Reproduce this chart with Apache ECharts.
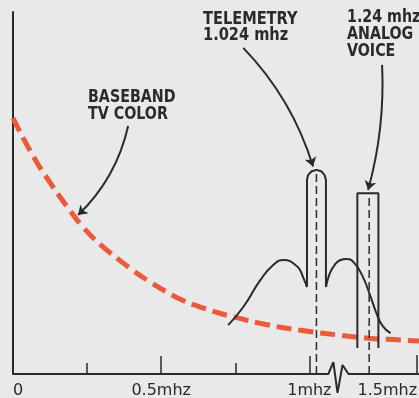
<!DOCTYPE html>
<html>
<head>
<meta charset="utf-8">
<script src="https://cdn.jsdelivr.net/npm/echarts@6.0.0/dist/echarts.min.js"></script>
<style>
html,body{margin:0;padding:0;background:#e8e9e8;}
#chart{width:419px;height:398px;}
</style>
</head>
<body>
<div id="chart"></div>
<script>
// ---- axis ticks / labels ----
const leftTickValues = [0, 0.5, 1];
const leftTickLabels = ['0', '0.5mhz', '1mhz'];
const leftMajorTicks = [0.5, 1];
const leftMinorTicks = [0.25, 0.75];
const rightTickValues = [1.5];
const rightTickLabels = ['1.5mhz'];

// ---- baseband TV colour spectrum (mhz, relative level) ----
const basebandX = [0, 0.068, 0.125, 0.182, 0.236, 0.294, 0.351, 0.405, 0.463, 0.520, 0.574, 0.632, 0.689, 0.743, 0.858, 0.970, 1.105, 1.199, 1.307, 1.37];
const basebandY = [70.7, 60.2, 52.9, 46.3, 40.6, 35.8, 32.0, 28.6, 25.4, 22.6, 20.3, 18.5, 17.0, 15.8, 13.6, 12.1, 10.7, 9.9, 9.4, 9.1];

// ---- telemetry 1.024 mhz ----
const teleFreq = 1.024;
const teleTop = 56.4;
const teleLeftLobeX = [0.726, 0.777, 0.835, 0.878, 0.912, 0.960, 0.980, 0.992];
const teleLeftLobeY = [13.5, 18.5, 26.0, 30.1, 31.5, 29.6, 26.5, 24.0];
const telePeakX = [0.992, 0.992, 0.996, 1.008, 1.024, 1.040, 1.051, 1.056, 1.056];
const telePeakY = [24.0, 53.7, 55.0, 56.0, 56.4, 56.0, 55.0, 53.7, 24.0];
const teleRightLobeX = [1.056, 1.068, 1.085, 1.105, 1.125, 1.149, 1.179, 1.206, 1.226, 1.247, 1.274];
const teleRightLobeY = [24.0, 27.6, 30.1, 31.5, 31.8, 30.9, 27.1, 21.5, 16.9, 13.3, 11.3];

// ---- analog voice 1.24 mhz ----
const voiceFreq = 1.24;
const voiceTop = 49.9;
const voiceX = [1.176, 1.176, 1.290, 1.290];
const voiceY = [7.2, 49.9, 49.9, 7.2];

// ---- axis break (baseline with zigzag) ----
const axisBreakX = [0, 1.064, 1.081, 1.095, 1.112, 1.132, 1.37];
const axisBreakY = [0, 0, 3.3, -5.2, 2.5, 0, 0];

// ---- annotation arrows [from, to] ----
const arrowBaseband = [[0.3885, 68.5], [0.2196, 43.9]];
const arrowTelemetry = [[0.777, 90.1], [1.0125, 57.3]];
const arrowVoice = [[1.31, 85.4], [1.234, 50.8]];

const zip = (xs, ys) => xs.map((x, i) => [x, ys[i]]);
const INK = '#2a2a2a';
const RED = '#ec5a3b';
const annoFont = 'bold 18px "DejaVu Sans Condensed", "DejaVu Sans", sans-serif';

const chart = echarts.init(document.getElementById('chart'), null, {renderer: 'canvas'});

function labelFor(values, labels) {
  return function (v) {
    const i = values.findIndex(t => Math.abs(t - v) < 1e-9);
    return i >= 0 ? labels[i] : '';
  };
}

const baseLine = {type: 'line', showSymbol: false, symbol: 'none', silent: true, animation: false};

chart.setOption({
  backgroundColor: '#e8e9e8',
  animation: false,
  grid: {left: 13, right: 0, top: 12, bottom: 24, containLabel: false, outerBoundsMode: 'none'},
  xAxis: [
    {
      type: 'value', position: 'bottom', min: 0, max: 1.37,
      axisLine: {show: false}, splitLine: {show: false},
      axisTick: {show: true, inside: true, length: 18, customValues: leftMajorTicks, lineStyle: {color: INK, width: 1.5}},
      axisLabel: {show: true, customValues: leftTickValues, formatter: labelFor(leftTickValues, leftTickLabels),
        alignMinLabel: 'left', margin: 9, color: INK, fontSize: 16, fontFamily: 'DejaVu Sans'}
    },
    {
      type: 'value', position: 'bottom', min: 0, max: 1.37,
      axisLine: {show: false}, splitLine: {show: false}, axisLabel: {show: false},
      axisTick: {show: true, inside: true, length: 11, customValues: leftMinorTicks, lineStyle: {color: INK, width: 1.5}}
    },
    {
      type: 'value', position: 'bottom', min: -0.69, max: 1.51,
      axisLine: {show: false}, splitLine: {show: false},
      axisTick: {show: true, inside: true, length: 19, customValues: rightTickValues, lineStyle: {color: INK, width: 1.5}},
      axisLabel: {show: true, customValues: rightTickValues, formatter: labelFor(rightTickValues, rightTickLabels),
        align: 'right', margin: 9, color: INK, fontSize: 16, fontFamily: 'DejaVu Sans'}
    }
  ],
  yAxis: {
    type: 'value', min: 0, max: 100,
    axisLine: {show: true, onZero: false, lineStyle: {color: INK, width: 2}},
    axisTick: {show: false}, axisLabel: {show: false}, splitLine: {show: false}
  },
  series: [
    Object.assign({}, baseLine, {
      name: 'axis', xAxisIndex: 0, clip: false, data: zip(axisBreakX, axisBreakY),
      lineStyle: {color: INK, width: 2}
    }),
    Object.assign({}, baseLine, {
      name: 'BASEBAND TV COLOR', xAxisIndex: 0, smooth: true, data: zip(basebandX, basebandY),
      lineStyle: {color: RED, width: 5, type: [15, 7], cap: 'butt'}, z: 3
    }),
    Object.assign({}, baseLine, {
      name: 'tele-left', xAxisIndex: 0, smooth: true, data: zip(teleLeftLobeX, teleLeftLobeY),
      lineStyle: {color: INK, width: 2}, z: 4
    }),
    Object.assign({}, baseLine, {
      name: 'tele-peak', xAxisIndex: 0, smooth: false, data: zip(telePeakX, telePeakY),
      lineStyle: {color: INK, width: 2, join: 'round'}, z: 4
    }),
    Object.assign({}, baseLine, {
      name: 'tele-right', xAxisIndex: 0, smooth: true, data: zip(teleRightLobeX, teleRightLobeY),
      lineStyle: {color: INK, width: 2}, z: 4
    }),
    Object.assign({}, baseLine, {
      name: 'tele-center', xAxisIndex: 0, data: [[teleFreq, 0], [teleFreq, teleTop]],
      lineStyle: {color: INK, width: 1.5, type: [8, 4]}, z: 4
    }),
    Object.assign({}, baseLine, {
      name: 'voice', xAxisIndex: 2, data: zip(voiceX, voiceY),
      lineStyle: {color: INK, width: 2}, z: 4
    }),
    Object.assign({}, baseLine, {
      name: 'voice-center', xAxisIndex: 2, data: [[voiceFreq, 0], [voiceFreq, voiceTop]],
      lineStyle: {color: INK, width: 1.5, type: [8, 4]}, z: 4
    }),
    {
      type: 'lines', coordinateSystem: 'cartesian2d', xAxisIndex: 0, yAxisIndex: 0,
      silent: true, animation: false, symbol: ['none', 'arrow'], symbolSize: 9,
      lineStyle: {color: INK, width: 2, opacity: 1},
      data: [
        {coords: arrowBaseband, lineStyle: {curveness: 0.15}},
        {coords: arrowTelemetry, lineStyle: {curveness: 0.12}}
      ], z: 5
    },
    {
      type: 'lines', coordinateSystem: 'cartesian2d', xAxisIndex: 2, yAxisIndex: 0,
      silent: true, animation: false, symbol: ['none', 'arrow'], symbolSize: 9,
      lineStyle: {color: INK, width: 2, opacity: 1},
      data: [
        {coords: arrowVoice, lineStyle: {curveness: 0.08}}
      ], z: 5
    }
  ],
  graphic: [
    {type: 'text', left: 88, top: 88, scaleX: 0.88, silent: true,
      style: {text: 'BASEBAND\nTV COLOR', font: annoFont, fill: INK, lineHeight: 17}},
    {type: 'text', left: 203, top: 10, scaleX: 0.9, silent: true,
      style: {text: 'TELEMETRY\n1.024 mhz', font: annoFont, fill: INK, lineHeight: 16}},
    {type: 'text', left: 347, top: 8, scaleX: 0.88, silent: true,
      style: {text: '1.24 mhz\nANALOG\nVOICE', font: annoFont, fill: INK, lineHeight: 17}}
  ]
});
</script>
</body>
</html>
